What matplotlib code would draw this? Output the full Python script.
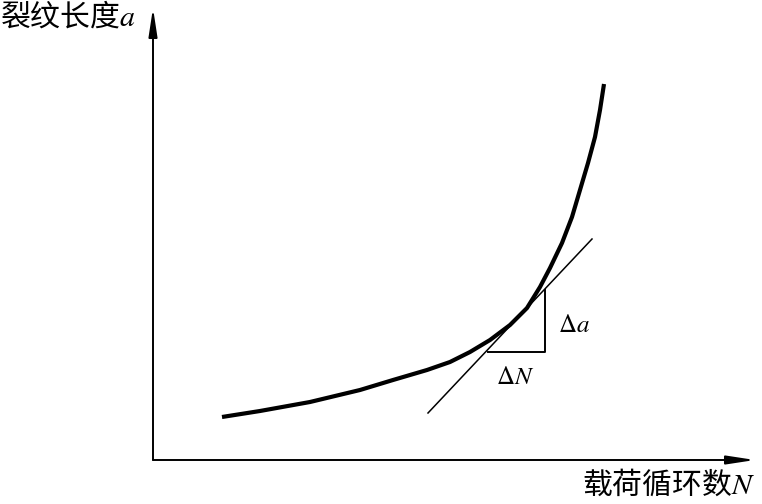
import matplotlib
matplotlib.use('Agg')
from matplotlib import pyplot as plt

plt.rcParams['font.family'] = ['Noto Sans CJK SC', 'DejaVu Sans']
plt.rcParams['mathtext.fontset'] = 'stix'

# 曲线 a-N (示意图读数)
N = [69, 107, 157, 207, 240, 274, 297, 317, 337, 357, 374, 387, 397, 409,
     419, 427, 435, 442, 447, 451]
a = [43, 49, 58, 70, 80, 90, 98, 108, 120, 135, 152, 173, 192, 217,
     243, 270, 297, 323, 350, 376]

# 切线与三角形
tan_N = [275, 439]
tan_a = [47, 221]
tri_N = [335, 392, 392]
tri_a = [108, 108, 170]

x_max = 602
y_max = 452

fig = plt.figure(figsize=(7.62, 5.04), dpi=100)
ax = fig.add_axes([0, 0, 1, 1])
ax.set_xlim(-153, 609)
ax.set_ylim(-44, 460)
ax.axis('off')

# 坐标轴箭头
arrow = dict(arrowstyle='-|>,head_length=0.85,head_width=0.13', mutation_scale=20,
             color='black', lw=1.4, shrinkA=0, shrinkB=0)
ax.annotate('', xy=(0, y_max), xytext=(0, 0), arrowprops=arrow)
ax.annotate('', xy=(x_max, 0), xytext=(0, 0), arrowprops=arrow)

ax.plot(N, a, color='black', lw=3, solid_capstyle='butt', solid_joinstyle='round')
ax.plot(tan_N, tan_a, color='black', lw=1.1)
ax.plot(tri_N, tri_a, color='black', lw=1.4)

ax.text(421, 135, r'$\Delta a$', fontsize=18, ha='center', va='center')
ax.text(362, 83, r'$\Delta N$', fontsize=18, ha='center', va='center')

ax.text(-153, 443, '裂纹长度$a$', fontsize=21.5, ha='left', va='center')
ax.text(602, -25, '载荷循环数$N$', fontsize=21.5, ha='right', va='center')

plt.savefig('out.png', dpi=100)
